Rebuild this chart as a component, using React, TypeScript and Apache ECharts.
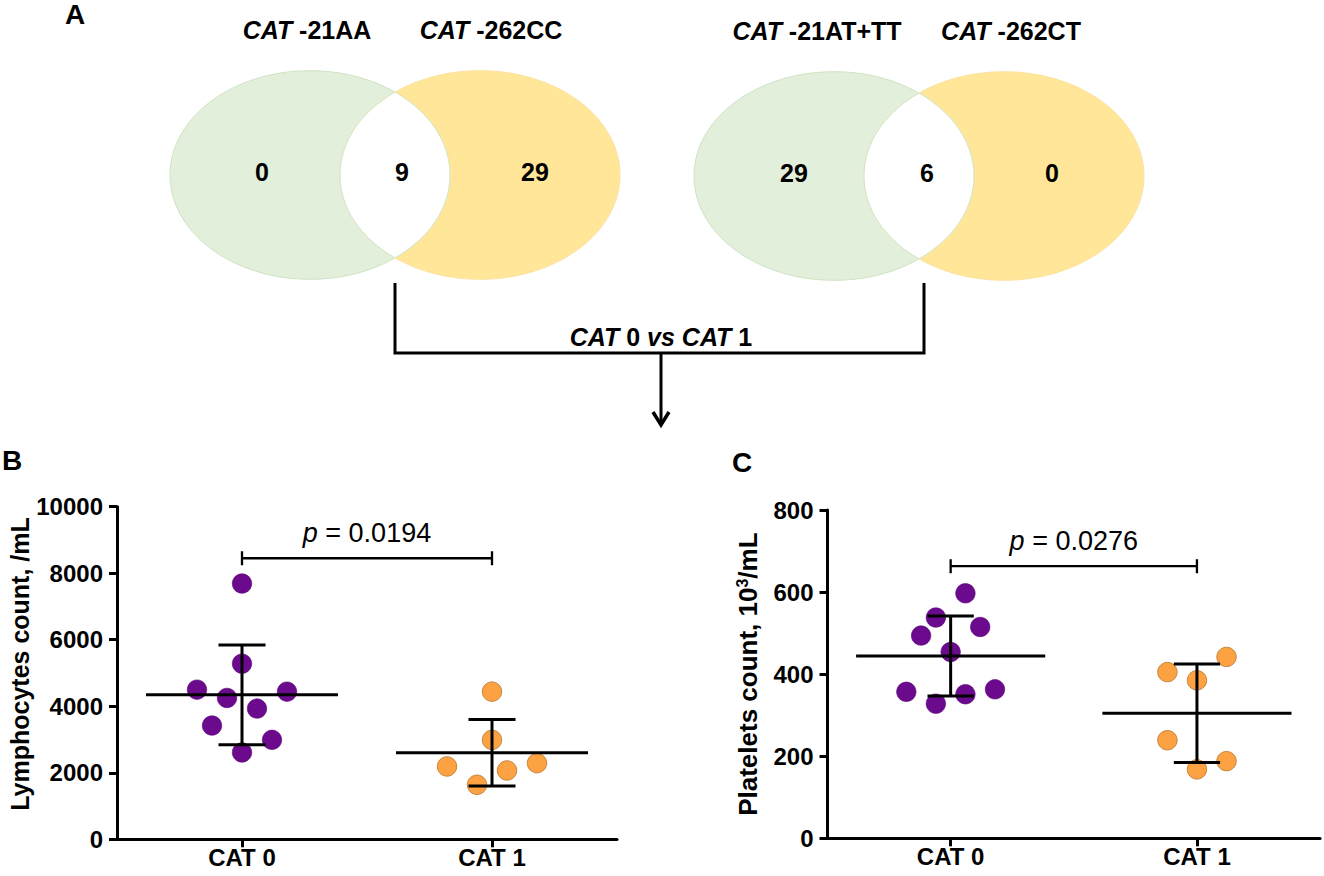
import React, { useEffect, useRef } from "react";
import * as echarts from "echarts";

// ---------- data ----------
const categories = ["CAT 0", "CAT 1"];

// Panel B: lymphocytes count (/mL)
const lymphCat0 = [7690, 5280, 4500, 4440, 4250, 3930, 3420, 2990, 2610];
const lymphCat0Jitter = [0, 0, -0.18, 0.18, -0.06, 0.06, -0.12, 0.12, 0];
const lymphCat1 = [4440, 2990, 2190, 2290, 2070, 1640];
const lymphCat1Jitter = [0, 0, -0.18, 0.18, 0.06, -0.06];
const lymphAxis = { min: 0, max: 10000, interval: 2000 };
const lymphPValue = "0.0194";
const lymphBracketLevel = 8450;

// Panel C: platelets count (10^3/mL)
const plateCat0 = [597, 538, 515, 494, 454, 357, 351, 363, 328];
const plateCat0Jitter = [0.06, -0.06, 0.12, -0.12, 0, -0.18, 0.06, 0.18, -0.06];
const plateCat1 = [442, 405, 385, 239, 188, 168];
const plateCat1Jitter = [0.12, -0.12, 0, -0.12, 0.12, 0];
const plateAxis = { min: 0, max: 800, interval: 200 };
const platePValue = "0.0276";
const plateBracketLevel = 663;

// Panel A: Venn diagrams
const vennLeftSets = ["-21AA", "-262CC"];
const vennLeftCounts = [0, 9, 29];
const vennRightSets = ["-21AT+TT", "-262CT"];
const vennRightCounts = [29, 6, 0];

// ---------- helpers ----------
const FONT = "'Liberation Sans', Arial, Helvetica, sans-serif";
const PURPLE = "#6b0a8d";
const ORANGE = "#fca243";
const ORANGE_BORDER = "#b8762f";
const GREEN_FILL = "#e2efda";
const YELLOW_FILL = "#ffe699";

const mean = (a: number[]) => a.reduce((s, v) => s + v, 0) / a.length;
const sd = (a: number[]) => {
  const m = mean(a);
  return Math.sqrt(a.reduce((s, v) => s + (v - m) * (v - m), 0) / (a.length - 1));
};

// Venn lens (intersection) shape
const VRX = 140;
const VRY = 104.3;
const VD = 85;
const VH = VRY * Math.sqrt(1 - (VD / VRX) * (VD / VRX));
const lensPath = `M 0 ${-VH} A ${VRX} ${VRY} 0 0 0 0 ${VH} A ${VRX} ${VRY} 0 0 0 0 ${-VH} Z`;
echarts.graphic.registerShape("vennLens", echarts.graphic.extendPath(lensPath, {}));

function statsRenderer(params: any, api: any) {
  const x = api.value(0);
  const m = api.value(1);
  const s = api.value(2);
  const L = api.coord([x - 0.384, m]);
  const R = api.coord([x + 0.384, m]);
  const T = api.coord([x, m + s]);
  const B = api.coord([x, m - s]);
  const tl = api.coord([x - 0.094, m + s]);
  const tr = api.coord([x + 0.094, m + s]);
  const bl = api.coord([x - 0.094, m - s]);
  const br = api.coord([x + 0.094, m - s]);
  const st = { stroke: "#000", lineWidth: 3 };
  return {
    type: "group",
    children: [
      { type: "line", shape: { x1: L[0], y1: L[1], x2: R[0], y2: R[1] }, style: st },
      { type: "line", shape: { x1: T[0], y1: T[1], x2: B[0], y2: B[1] }, style: st },
      { type: "line", shape: { x1: tl[0], y1: tl[1], x2: tr[0], y2: tr[1] }, style: st },
      { type: "line", shape: { x1: bl[0], y1: bl[1], x2: br[0], y2: br[1] }, style: st },
    ],
  };
}

function makeBracketRenderer(pText: string) {
  return (params: any, api: any) => {
    const a = api.coord([api.value(0), api.value(2)]);
    const b = api.coord([api.value(1), api.value(2)]);
    const st = { stroke: "#000", lineWidth: 2.3 };
    return {
      type: "group",
      children: [
        { type: "line", shape: { x1: a[0], y1: a[1], x2: b[0], y2: b[1] }, style: st },
        { type: "line", shape: { x1: a[0], y1: a[1] - 7, x2: a[0], y2: a[1] + 7 }, style: st },
        { type: "line", shape: { x1: b[0], y1: b[1] - 7, x2: b[0], y2: b[1] + 7 }, style: st },
        {
          type: "text",
          style: {
            x: (a[0] + b[0]) / 2,
            y: a[1] - 25,
            text: `{i|p} = ${pText}`,
            fill: "#000",
            fontSize: 27,
            fontFamily: FONT,
            align: "center",
            verticalAlign: "middle",
            rich: { i: { fontStyle: "italic", fontSize: 27, fontFamily: FONT, fill: "#000" } },
          },
        },
      ],
    };
  };
}

function vennGraphics(cxL: number, cxR: number, cy: number, sets: string[], counts: number[], labelY: number, labelX: number[], numX: number[]) {
  const els: any[] = [
    { type: "ellipse", shape: { cx: cxL, cy, rx: VRX, ry: VRY }, style: { fill: GREEN_FILL, stroke: "#cfe3c2", lineWidth: 1 } },
    { type: "ellipse", shape: { cx: cxR, cy, rx: VRX, ry: VRY }, style: { fill: YELLOW_FILL, stroke: "#fde3a0", lineWidth: 1 } },
    { type: "vennLens", x: (cxL + cxR) / 2, y: cy, style: { fill: "#ffffff", stroke: "#d4e4c9", lineWidth: 1 } },
  ];
  sets.forEach((s, i) => {
    els.push({
      type: "text",
      x: labelX[i],
      y: labelY,
      style: {
        text: `{bi|CAT} ${s}`,
        fill: "#000",
        fontSize: 25,
        fontWeight: "bold",
        fontFamily: FONT,
        align: "center",
        verticalAlign: "middle",
        rich: { bi: { fontStyle: "italic", fontWeight: "bold", fontSize: 25, fontFamily: FONT, fill: "#000" } },
      },
    });
  });
  counts.forEach((c, i) => {
    els.push({
      type: "text",
      x: numX[i],
      y: cy - 3,
      style: { text: String(c), fill: "#000", fontSize: 25, fontWeight: "bold", fontFamily: FONT, align: "center", verticalAlign: "middle" },
    });
  });
  return els;
}

function valueYAxis(gridIndex: number, ax: { min: number; max: number; interval: number }, name: string, nameGap: number, extra: any) {
  return {
    type: "value",
    gridIndex,
    min: ax.min,
    max: ax.max,
    interval: ax.interval,
    splitLine: { show: false },
    axisLine: { show: true, onZero: false, lineStyle: { color: "#000", width: 3 } },
    axisTick: { show: true, length: 8, lineStyle: { color: "#000", width: 3 } },
    axisLabel: {
      color: "#000",
      fontSize: 24,
      fontWeight: "bold",
      fontFamily: FONT,
      margin: 14,
      formatter: (v: number) => String(v),
    },
    name,
    nameLocation: "middle",
    nameGap,
    nameTextStyle: { color: "#000", fontFamily: FONT, fontWeight: "bold", ...extra },
  };
}

function catXAxis(gridIndex: number) {
  return {
    type: "category",
    gridIndex,
    data: categories,
    boundaryGap: true,
    axisLine: { show: true, onZero: false, lineStyle: { color: "#000", width: 3 } },
    axisTick: { show: true, alignWithLabel: true, length: 8, lineStyle: { color: "#000", width: 3 } },
    axisLabel: { color: "#000", fontSize: 24, fontWeight: "bold", fontFamily: FONT, margin: 6 },
    splitLine: { show: false },
  };
}

function App() {
  const ref = useRef<HTMLDivElement>(null);
  useEffect(() => {
    if (!ref.current) return;
    const chart = echarts.init(ref.current, undefined, { renderer: "svg" });

    const scatterB0 = lymphCat0.map((v, i) => [0 + lymphCat0Jitter[i], v]);
    const scatterB1 = lymphCat1.map((v, i) => [1 + lymphCat1Jitter[i], v]);
    const scatterC0 = plateCat0.map((v, i) => [0 + plateCat0Jitter[i], v]);
    const scatterC1 = plateCat1.map((v, i) => [1 + plateCat1Jitter[i], v]);

    const purpleStyle = { color: PURPLE, borderColor: "#5a0778", borderWidth: 0.6, opacity: 1 };
    const orangeStyle = { color: ORANGE, borderColor: ORANGE_BORDER, borderWidth: 0.8, opacity: 1 };

    const graphics: any[] = [
      { type: "text", x: 75, y: 14, style: { text: "A", fill: "#000", fontSize: 28, fontWeight: "bold", fontFamily: FONT, align: "center", verticalAlign: "middle" } },
      { type: "text", x: 12, y: 460, style: { text: "B", fill: "#000", fontSize: 28, fontWeight: "bold", fontFamily: FONT, align: "center", verticalAlign: "middle" } },
      { type: "text", x: 742, y: 462, style: { text: "C", fill: "#000", fontSize: 28, fontWeight: "bold", fontFamily: FONT, align: "center", verticalAlign: "middle" } },
      ...vennGraphics(310, 480, 175, vennLeftSets, vennLeftCounts, 30, [307, 491], [262, 402, 535]),
      ...vennGraphics(834, 1004, 176, vennRightSets, vennRightCounts, 31, [817, 1011], [794, 927, 1052]),
      {
        type: "polyline",
        shape: { points: [[395, 283], [395, 353], [924, 353], [924, 283]] },
        style: { stroke: "#000", lineWidth: 3, fill: "none" },
      },
      { type: "line", shape: { x1: 661, y1: 353, x2: 661, y2: 425 }, style: { stroke: "#000", lineWidth: 3 } },
      { type: "polyline", shape: { points: [[653, 412], [661, 425], [669, 412]] }, style: { stroke: "#000", lineWidth: 3.5, fill: "none" } },
      {
        type: "text",
        x: 661,
        y: 337,
        style: {
          text: "{bi|CAT} 0 {bi|vs} {bi|CAT} 1",
          fill: "#000",
          fontSize: 25,
          fontWeight: "bold",
          fontFamily: FONT,
          align: "center",
          verticalAlign: "middle",
          rich: { bi: { fontStyle: "italic", fontWeight: "bold", fontSize: 25, fontFamily: FONT, fill: "#000" } },
        },
      },
    ];

    chart.setOption({
      animation: false,
      backgroundColor: "#ffffff",
      graphic: { elements: graphics },
      grid: [
        { left: 117, top: 506.7, width: 500, height: 332.6 },
        { left: 827.5, top: 510, width: 492.6, height: 328.3 },
      ],
      xAxis: [
        catXAxis(0),
        { type: "value", gridIndex: 0, min: -0.5, max: 1.5, show: false },
        catXAxis(1),
        { type: "value", gridIndex: 1, min: -0.5, max: 1.5, show: false },
      ],
      yAxis: [
        valueYAxis(0, lymphAxis, "Lymphocytes count, /mL", 82, { fontSize: 25, padding: [0, 0, 0, 18] }),
        valueYAxis(1, plateAxis, "Platelets count, 10{sup|3}/mL", 67, {
          fontSize: 26,
          rich: { sup: { fontSize: 16, fontWeight: "bold", fontFamily: FONT, color: "#000", verticalAlign: "top", lineHeight: 13 } },
        }),
      ],
      series: [
        { type: "scatter", xAxisIndex: 1, yAxisIndex: 0, data: scatterB0, symbolSize: 19.5, itemStyle: purpleStyle, z: 2 },
        { type: "scatter", xAxisIndex: 1, yAxisIndex: 0, data: scatterB1, symbolSize: 19.5, itemStyle: orangeStyle, z: 2 },
        {
          type: "custom",
          xAxisIndex: 1,
          yAxisIndex: 0,
          z: 3,
          renderItem: statsRenderer,
          data: [
            [0, mean(lymphCat0), sd(lymphCat0)],
            [1, mean(lymphCat1), sd(lymphCat1)],
          ],
        },
        {
          type: "custom",
          xAxisIndex: 1,
          yAxisIndex: 0,
          z: 3,
          renderItem: makeBracketRenderer(lymphPValue),
          data: [[0, 1, lymphBracketLevel]],
        },
        { type: "scatter", xAxisIndex: 3, yAxisIndex: 1, data: scatterC0, symbolSize: 19.5, itemStyle: purpleStyle, z: 2 },
        { type: "scatter", xAxisIndex: 3, yAxisIndex: 1, data: scatterC1, symbolSize: 19.5, itemStyle: orangeStyle, z: 2 },
        {
          type: "custom",
          xAxisIndex: 3,
          yAxisIndex: 1,
          z: 3,
          renderItem: statsRenderer,
          data: [
            [0, mean(plateCat0), sd(plateCat0)],
            [1, mean(plateCat1), sd(plateCat1)],
          ],
        },
        {
          type: "custom",
          xAxisIndex: 3,
          yAxisIndex: 1,
          z: 3,
          renderItem: makeBracketRenderer(platePValue),
          data: [[0, 1, plateBracketLevel]],
        },
      ],
    });
    return () => chart.dispose();
  }, []);

  return (
    <div
      ref={ref}
      style={{ position: "absolute", left: 0, top: 0, width: 1324, height: 876, background: "#fff" }}
    />
  );
}

export default App;
